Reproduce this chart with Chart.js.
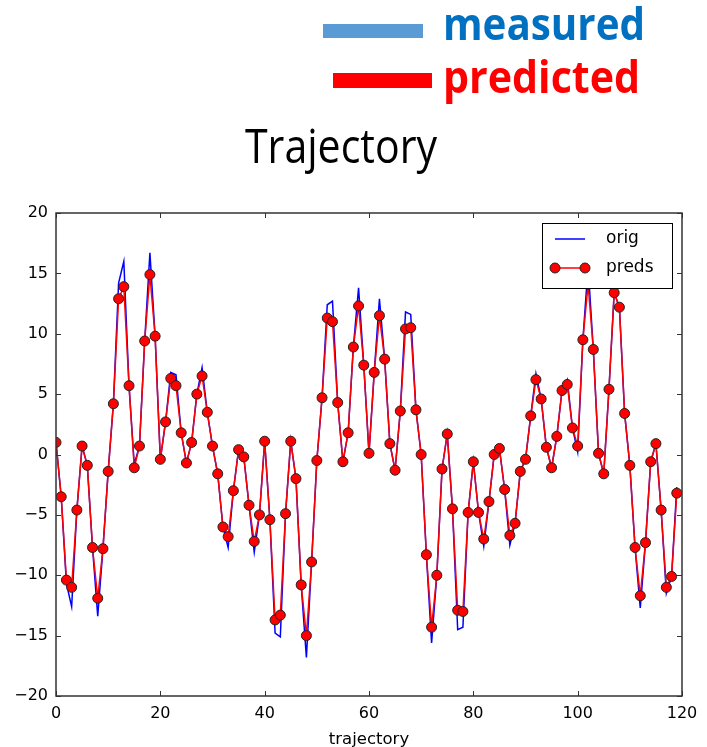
<!DOCTYPE html>
<html>
<head>
<meta charset="utf-8">
<script src="https://cdn.jsdelivr.net/npm/chart.js@4.4.1/dist/chart.umd.min.js"></script>
<style>
  body { margin: 0; background: #fff; }
  #wrap { width: 707px; height: 747px; }
</style>
</head>
<body>
<div id="wrap"><canvas id="myChart" width="707" height="747"></canvas></div>
<script>
// trajectory step index
const steps = [
  0,1,2,3,4,5,6,7,8,9,10,11,12,13,14,15,16,17,18,19,
  20,21,22,23,24,25,26,27,28,29,30,31,32,33,34,35,36,37,38,39,
  40,41,42,43,44,45,46,47,48,49,50,51,52,53,54,55,56,57,58,59,
  60,61,62,63,64,65,66,67,68,69,70,71,72,73,74,75,76,77,78,79,
  80,81,82,83,84,85,86,87,88,89,90,91,92,93,94,95,96,97,98,99,
  100,101,102,103,104,105,106,107,108,109,110,111,112,113,114,115,116,117,118,119
];

const origValues = [
  1.0,-3.5,-10.7,-12.6,-4.6,0.7,-0.9,-7.7,-13.4,-7.8,
  -1.4,4.2,14.2,16.0,5.7,-0.8,0.7,9.4,16.7,9.8,
  -0.4,2.7,6.8,6.6,1.8,-0.7,1.0,5.0,7.2,3.5,
  0.7,-1.6,-6.0,-7.7,-3.0,0.4,-0.2,-4.2,-8.1,-5.0,
  1.1,-5.4,-14.8,-15.1,-4.9,1.1,-2.0,-10.8,-16.8,-8.9,
  -0.5,4.7,12.4,12.7,4.3,-0.6,1.8,8.9,13.8,7.4,
  0.1,6.8,12.9,7.9,0.9,-1.3,3.6,11.8,11.6,3.7,
  0.0,-8.3,-15.6,-10.0,-1.2,1.7,-4.5,-14.5,-14.3,-4.8,
  -0.6,-4.8,-7.6,-3.9,0.0,0.5,-2.9,-7.5,-5.7,-1.4,
  -0.4,3.2,6.7,4.6,0.6,-1.1,1.5,5.3,6.2,2.2,
  0.2,9.5,15.6,8.7,0.1,-1.6,5.4,13.4,12.2,3.4,
  -0.9,-7.7,-12.7,-7.3,-0.6,0.9,-4.6,-11.5,-10.1,-2.7
];

const predValues = [
  1.0,-3.5,-10.4,-11.0,-4.6,0.7,-0.9,-7.7,-11.9,-7.8,
  -1.4,4.2,12.9,13.9,5.7,-1.1,0.7,9.4,14.9,9.8,
  -0.4,2.7,6.3,5.7,1.8,-0.7,1.0,5.0,6.5,3.5,
  0.7,-1.6,-6.0,-6.8,-3.0,0.4,-0.2,-4.2,-7.2,-5.0,
  1.1,-5.4,-13.7,-13.3,-4.9,1.1,-2.0,-10.8,-15.0,-8.9,
  -0.5,4.7,11.3,11.0,4.3,-0.6,1.8,8.9,12.3,7.4,
  0.1,6.8,11.5,7.9,0.9,-1.3,3.6,10.4,10.5,3.7,
  0.0,-8.3,-14.3,-10.0,-1.2,1.7,-4.5,-12.9,-13.0,-4.8,
  -0.6,-4.8,-7.0,-3.9,0.0,0.5,-2.9,-6.7,-5.7,-1.4,
  -0.4,3.2,6.2,4.6,0.6,-1.1,1.5,5.3,5.8,2.2,
  0.7,9.5,14.1,8.7,0.1,-1.6,5.4,13.4,12.2,3.4,
  -0.9,-7.7,-11.7,-7.3,-0.6,0.9,-4.6,-11.0,-10.1,-3.2
];

const xTicks = [0, 20, 40, 60, 80, 100, 120];
const yTicks = [-20, -15, -10, -5, 0, 5, 10, 15, 20];

const toPoints = vals => steps.map((s, i) => ({x: s, y: vals[i]}));

// matplotlib style frame, inward ticks, legend box and the slide header
const decorations = {
  id: 'decorations',
  afterDatasetsDraw(chart) {
    const ctx = chart.ctx;
    const a = chart.chartArea;
    const xs = chart.scales.x, ys = chart.scales.y;
    ctx.save();
    ctx.strokeStyle = '#333';
    ctx.lineWidth = 1;
    xTicks.forEach(v => {
      const px = Math.round(xs.getPixelForValue(v)) + 0.5;
      ctx.beginPath();
      ctx.moveTo(px, a.bottom); ctx.lineTo(px, a.bottom - 5);
      ctx.moveTo(px, a.top); ctx.lineTo(px, a.top + 5);
      ctx.stroke();
    });
    yTicks.forEach(v => {
      const py = Math.round(ys.getPixelForValue(v)) + 0.5;
      ctx.beginPath();
      ctx.moveTo(a.left, py); ctx.lineTo(a.left + 5, py);
      ctx.moveTo(a.right, py); ctx.lineTo(a.right - 5, py);
      ctx.stroke();
    });
    ctx.lineWidth = 1.5;
    ctx.strokeStyle = '#333';
    ctx.strokeRect(a.left, a.top, a.right - a.left, a.bottom - a.top);

    // legend
    const lx = 542, ly = 223, lw = 130, lh = 65;
    ctx.fillStyle = '#fff';
    ctx.fillRect(lx, ly, lw, lh);
    ctx.lineWidth = 1;
    ctx.strokeStyle = '#000';
    ctx.strokeRect(lx + 0.5, ly + 0.5, lw, lh);
    ctx.strokeStyle = '#0000ff';
    ctx.lineWidth = 1.5;
    ctx.beginPath(); ctx.moveTo(555, 239); ctx.lineTo(585, 239); ctx.stroke();
    ctx.strokeStyle = '#ff0000';
    ctx.beginPath(); ctx.moveTo(555, 268); ctx.lineTo(585, 268); ctx.stroke();
    [555, 585].forEach(cx => {
      ctx.beginPath();
      ctx.arc(cx, 268, 5, 0, Math.PI * 2);
      ctx.fillStyle = '#ff0000';
      ctx.fill();
      ctx.lineWidth = 1;
      ctx.strokeStyle = '#222';
      ctx.stroke();
    });
    ctx.fillStyle = '#000';
    ctx.font = '17px "DejaVu Sans"';
    ctx.textBaseline = 'middle';
    ctx.fillText('orig', 606, 239);
    ctx.fillText('preds', 606, 268);
    ctx.restore();
  },
  afterDraw(chart) {
    const ctx = chart.ctx;
    ctx.save();
    ctx.fillStyle = '#5b9bd5';
    ctx.fillRect(323, 24, 100, 14);
    ctx.fillStyle = '#ff0000';
    ctx.fillRect(333, 73, 99, 15);
    ctx.textBaseline = 'alphabetic';
    ctx.font = 'bold 44px "Open Sans"';
    ctx.fillStyle = '#0070c0';
    ctx.fillText('measured', 443, 40, 202);
    ctx.fillStyle = '#ff0000';
    ctx.fillText('predicted', 443, 93, 197);
    ctx.fillStyle = '#000';
    ctx.font = '48px "Open Sans"';
    ctx.fillText('Trajectory', 245, 163, 192);
    ctx.restore();
  }
};

const data = {
  datasets: [{
    label: 'orig',
    data: toPoints(origValues),
    borderColor: '#0000ff',
    borderWidth: 1.5,
    pointRadius: 0,
    fill: false,
    tension: 0,
    order: 1
  }, {
    label: 'preds',
    data: toPoints(predValues),
    borderColor: '#ff0000',
    borderWidth: 1.5,
    pointRadius: 5,
    pointBackgroundColor: '#ff0000',
    pointBorderColor: '#222',
    pointBorderWidth: 1,
    fill: false,
    tension: 0,
    order: 0
  }]
};

const minus = v => String(v).replace('-', '\u2212');

const config = {
  type: 'line',
  data: data,
  plugins: [decorations],
  options: {
    responsive: false,
    devicePixelRatio: 1,
    animation: false,
    layout: { padding: { top: 213, right: 25, left: 0, bottom: 0 } },
    plugins: {
      legend: { display: false },
      tooltip: { enabled: false },
      title: { display: false }
    },
    scales: {
      x: {
        type: 'linear',
        min: 0,
        max: 120,
        afterFit: s => { s.height = 51; },
        afterBuildTicks: s => { s.ticks = xTicks.map(v => ({value: v})); },
        grid: { display: false, drawTicks: false },
        border: { display: false },
        ticks: { padding: 8, color: '#000', font: { family: 'DejaVu Sans', size: 16 }, callback: minus, maxRotation: 0 },
        title: { display: true, text: 'trajectory', color: '#000', font: { family: 'DejaVu Sans', size: 16.5 }, padding: { top: 0, bottom: -3 } }
      },
      y: {
        min: -20,
        max: 20,
        afterFit: s => { s.width = 56; },
        afterBuildTicks: s => { s.ticks = yTicks.map(v => ({value: v})); },
        grid: { display: false, drawTicks: false },
        border: { display: false },
        ticks: { padding: 8, color: '#000', font: { family: 'DejaVu Sans', size: 16 }, callback: minus }
      }
    }
  }
};

function createChart() {
  const ctx = document.getElementById('myChart').getContext('2d');
  /* eslint-disable no-unused-vars */
  const myChart = new Chart(ctx, config);
}

createChart();
</script>
</body>
</html>
